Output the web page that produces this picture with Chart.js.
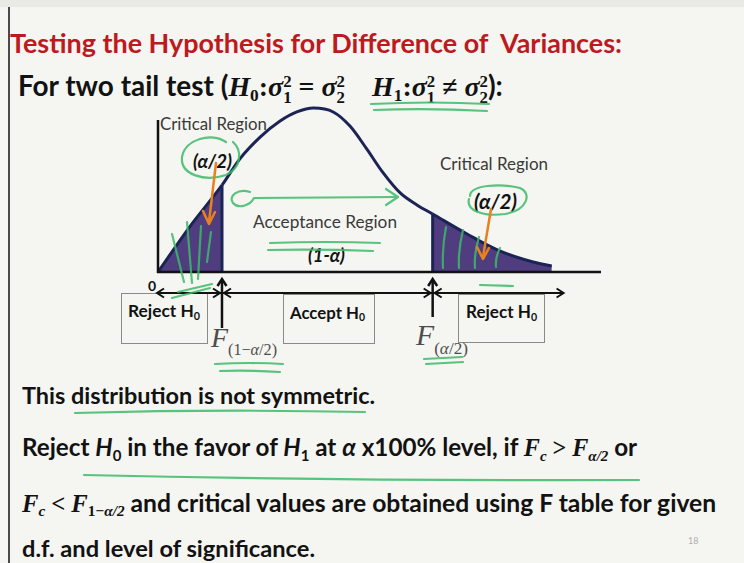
<!DOCTYPE html>
<html>
<head>
<meta charset="utf-8">
<script src="https://cdn.jsdelivr.net/npm/chart.js@4.4.1/dist/chart.umd.min.js"></script>
<style>
  html, body { margin: 0; padding: 0; }
  body { width: 744px; height: 563px; position: relative; overflow: hidden; background: #f5f5f1; font-family: Lato, "Open Sans", sans-serif; color: #121212; }
  #topband { position: absolute; left: 0; top: 0; width: 744px; height: 7px; background: #e9e9e5; }
  #edge { position: absolute; left: 8px; top: 7px; width: 2px; height: 556px; background: #4a4a4a; }
  #c { position: absolute; left: 0; top: 0; z-index: 2; }
  #ink { position: absolute; left: 0; top: 0; z-index: 3; pointer-events: none; }
  .t { position: absolute; white-space: nowrap; line-height: 1.25; transform: translateY(-50%); z-index: 1; }
  .b { font-weight: 700; }
  .lab { color: #3a3a3a; }
  .m { font-family: "Liberation Serif", serif; font-weight: 700; }
  .mi { font-family: "Liberation Serif", serif; font-weight: 700; font-style: italic; }
  .tm { font-family: "Liberation Serif", serif; font-weight: 700; font-style: italic; }
  sub { font-size: 0.62em; vertical-align: -0.28em; line-height: 0; }
  .st { display: inline-block; font-size: 0.6em; line-height: 0.95; vertical-align: -0.42em; text-align: left; }
  .st span { display: block; }
  .box { position: absolute; border: 1.5px solid #8a8a8a; box-sizing: border-box; z-index: 1; }
  .fl { position: absolute; white-space: nowrap; font-family: "Liberation Serif", serif; font-style: italic; color: #4d4d4d; line-height: 1; z-index: 1; }
  .fl .s { font-style: normal; font-size: 0.58em; vertical-align: -0.5em; }
</style>
</head>
<body>
<div id="topband"></div>
<div id="edge"></div>

<div class="t b" data-w="612" style="left:10px;top:43px;font-size:28px;color:#bd1a1f;">Testing the Hypothesis for Difference of&nbsp; Variances:</div>

<div class="t b" data-w="485" style="left:18px;top:87px;font-size:21px;">For two tail test (<span class="mi">H</span><sub class="m">0</sub><span class="m">:</span><span class="mi">σ</span><span class="st m"><span>2</span><span>1</span></span><span class="m"> = </span><span class="mi">σ</span><span class="st m"><span>2</span><span>2</span></span>&nbsp;&nbsp;&nbsp;&nbsp;<span class="mi">H</span><sub class="m">1</sub><span class="m">:</span><span class="mi">σ</span><span class="st m"><span>2</span><span>1</span></span><span class="m"> ≠ </span><span class="mi">σ</span><span class="st m"><span>2</span><span>2</span></span>):</div>

<!-- region labels -->
<div class="t lab" data-w="107" style="left:160px;top:124px;font-size:16px;">Critical Region</div>
<div class="t b" data-w="39" style="left:193px;top:161px;font-size:16px;font-style:italic;">(α/2)</div>
<div class="t lab" data-w="144" style="left:253px;top:222px;font-size:17px;">Acceptance Region</div>
<div class="t b" data-w="37" style="left:308px;top:255px;font-size:16px;font-style:italic;">(1-α)</div>
<div class="t lab" data-w="108" style="left:440px;top:164px;font-size:16px;">Critical Region</div>
<div class="t b" data-w="43" style="left:474px;top:202px;font-size:17px;font-style:italic;">(α/2)</div>
<div class="t b" style="left:148px;top:286px;font-size:14px;">0</div>

<!-- decision boxes -->
<div class="box" style="left:121px;top:293px;width:87px;height:51px;"></div>
<div class="box" style="left:283px;top:294px;width:92px;height:50px;"></div>
<div class="box" style="left:458px;top:294px;width:87px;height:49px;"></div>
<div class="t b" data-w="72" style="left:128px;top:311px;font-size:14px;">Reject H<sub>0</sub></div>
<div class="t b" data-w="75" style="left:290px;top:312px;font-size:14px;">Accept H<sub>0</sub></div>
<div class="t b" data-w="71" style="left:466px;top:312px;font-size:14px;">Reject H<sub>0</sub></div>

<!-- critical value labels -->
<div class="fl" data-w="66" style="left:211px;top:324px;font-size:26px;">F<span class="s">(1−<i>α</i>/2)</span></div>
<div class="fl" data-w="52" style="left:416px;top:321px;font-size:26px;">F<span class="s">(<i>α</i>/2)</span></div>

<!-- conclusions -->
<div class="t b" data-w="353" style="left:22px;top:396px;font-size:22px;">This distribution is not symmetric.</div>
<div class="t b" data-w="615" style="left:22px;top:448px;font-size:22px;">Reject <i>H</i><sub>0</sub> in the favor of <i>H</i><sub>1</sub> at <i>α</i> x100% level, if <span class="tm">F<sub>c</sub></span> <span class="m">&gt;</span> <span class="tm">F<sub>α/2</sub></span> or</div>
<div class="t b" data-w="694" style="left:22px;top:504px;font-size:22px;"><span class="tm">F<sub>c</sub></span> <span class="m">&lt;</span> <span class="tm">F<sub><span class="m" style="font-style:normal">1−</span>α/2</sub></span> and critical values are obtained using F table for given</div>
<div class="t b" data-w="293" style="left:22px;top:549px;font-size:22px;">d.f. and level of significance.</div>
<div class="t" style="left:688px;top:541px;font-size:9px;color:#b0b0ac;">18</div>

<canvas id="c" width="744" height="563" style="width:744px;height:563px;"></canvas>

<svg id="ink" width="744" height="563" viewBox="0 0 744 563">
  <g fill="none" stroke="#3dba69" stroke-width="2.2" stroke-linecap="round" stroke-linejoin="round" opacity="0.85">
    <path d="M371 104 Q430 101 489 104"/>
    <path d="M374 110 Q430 108 487 111"/>
    <path d="M226 142 C212 132 185 139 182 157 C180 175 205 182 226 175 C241 168 243 151 233 142"/>
    <path d="M470 196 C470 185 500 183 520 188 C532 193 528 210 505 214 C482 217 466 210 469 199"/>
    <path d="M250 192 C238 188 228 196 233 203 C238 209 250 206 254 198 L398 197"/>
    <path d="M386 189 L398 197 L386 205"/>
    <path d="M270 243 Q325 241 380 243"/>
    <path d="M268 250 Q320 249 373 251"/>
    <path d="M172 234 L184 282"/>
    <path d="M187 222 L192 283"/>
    <path d="M201 226 L198 279"/>
    <path d="M211 232 L207 262"/>
    <path d="M172 298 L210 288"/>
    <path d="M178 292 L212 284"/>
    <path d="M446 227 Q442 248 443 268"/>
    <path d="M463 230 Q458 250 459 268"/>
    <path d="M479 237 Q474 253 475 268"/>
    <path d="M500 248 Q495 258 496 267"/>
    <path d="M480 285 L513 286"/>
    <path d="M215 364 Q250 362 283 364"/>
    <path d="M220 371 Q250 370 280 372"/>
    <path d="M424 359 L462 357"/>
    <path d="M426 364 L463 362"/>
    <path d="M75 413 Q220 409 365 412"/>
    <path d="M84 475 Q360 481 639 480"/>
  </g>
  <g fill="none" stroke="#e8821e" stroke-width="2.5" stroke-linecap="round" stroke-linejoin="round">
    <path d="M216 163 L209 222"/>
    <path d="M203 211 L209 224 L215 212"/>
    <path d="M491 209 L483 257"/>
    <path d="M477 247 L483 259 L489 248"/>
  </g>
</svg>

<script>
// F-type density curve, read at representative points along the F axis
const densityX = [0, 0.32, 0.65, 0.83, 1.04, 1.24, 1.41, 1.58, 1.78, 1.95, 2.12, 2.28, 2.46, 2.63, 2.79, 3.14, 3.47, 3.81, 4.0];
const densityY = [0, 0.207, 0.40, 0.52, 0.622, 0.695, 0.737, 0.755, 0.737, 0.672, 0.567, 0.461, 0.364, 0.309, 0.267, 0.175, 0.097, 0.046, 0.028];
// F(1-α/2) and F(α/2)
const criticalValues = [0.65, 2.79];
// right end of the decision axis drawn under the curve
const decisionAxisEnd = 4.12;

const navy = '#1b2455';
const tailFill = '#4f3d80';

const points = densityX.map((x, i) => ({ x, y: densityY[i] }));
const densityAt = v => densityY[densityX.indexOf(v)];
const inTail = ctx => ctx.p1.parsed.x <= criticalValues[0] || ctx.p0.parsed.x >= criticalValues[1];

const criticalLines = criticalValues.map(v => ({
  data: [{ x: v, y: 0 }, { x: v, y: densityAt(v) }],
  borderColor: navy, borderWidth: 3, pointRadius: 0, fill: false, order: 0
}));

// axis frame plus the decision axis with arrows at the critical values
const axisArrows = {
  id: 'axisArrows',
  afterDatasetsDraw(chart) {
    const { ctx, chartArea: a, scales: { x } } = chart;
    const seg = (x1, y1, x2, y2) => { ctx.beginPath(); ctx.moveTo(x1, y1); ctx.lineTo(x2, y2); ctx.stroke(); };
    const head = (tx, ty, dx, dy) => {
      const s = 7, w = 4.5, px = -dy, py = dx;
      ctx.beginPath();
      ctx.moveTo(tx - dx * s + px * w, ty - dy * s + py * w);
      ctx.lineTo(tx, ty);
      ctx.lineTo(tx - dx * s - px * w, ty - dy * s - py * w);
      ctx.stroke();
    };
    ctx.save();
    ctx.strokeStyle = '#111';
    ctx.lineWidth = 2.5;
    seg(a.left, a.top, a.left, a.bottom + 1);
    seg(a.left - 1, a.bottom, a.right, a.bottom);

    const yL = a.bottom + 21;
    const x0 = x.getPixelForValue(0), xEnd = x.getPixelForValue(decisionAxisEnd);
    ctx.lineWidth = 2;
    seg(x0, yL, xEnd, yL);
    head(x0 - 1, yL, -1, 0);
    head(xEnd, yL, 1, 0);
    criticalValues.forEach((v, i) => {
      const cx = x.getPixelForValue(v);
      ctx.lineWidth = 2;
      head(cx - 2, yL, 1, 0);
      head(cx + 2, yL, -1, 0);
      ctx.lineWidth = 2.5;
      seg(cx, a.bottom + (i === 0 ? 56 : 45), cx, a.bottom + 8);
      head(cx, a.bottom + 7, 0, -1);
    });
    ctx.restore();
  }
};

new Chart(document.getElementById('c'), {
  type: 'line',
  data: {
    datasets: [{
      data: points,
      borderColor: navy,
      borderWidth: 3,
      pointRadius: 0,
      cubicInterpolationMode: 'monotone',
      fill: 'origin',
      backgroundColor: tailFill,
      segment: { backgroundColor: ctx => inTail(ctx) ? tailFill : 'rgba(0,0,0,0)' },
      clip: false,
      order: 1
    }, ...criticalLines]
  },
  options: {
    responsive: false,
    animation: false,
    events: [],
    layout: { padding: { left: 158, top: 120, right: 143, bottom: 291 } },
    scales: {
      x: { type: 'linear', min: 0, max: 4.5, display: false },
      y: { min: 0, max: 0.7, display: false }
    },
    plugins: { legend: { display: false }, tooltip: { enabled: false } }
  },
  plugins: [axisArrows]
});

// size text lines to their set widths
function fitText() {
  document.querySelectorAll('[data-w]').forEach(el => {
    const target = +el.dataset.w;
    const fs = parseFloat(getComputedStyle(el).fontSize);
    const w = el.getBoundingClientRect().width;
    if (w > 0) el.style.fontSize = (fs * target / w).toFixed(2) + 'px';
  });
}
fitText();
if (document.fonts && document.fonts.ready) document.fonts.ready.then(fitText);
</script>
</body>
</html>
